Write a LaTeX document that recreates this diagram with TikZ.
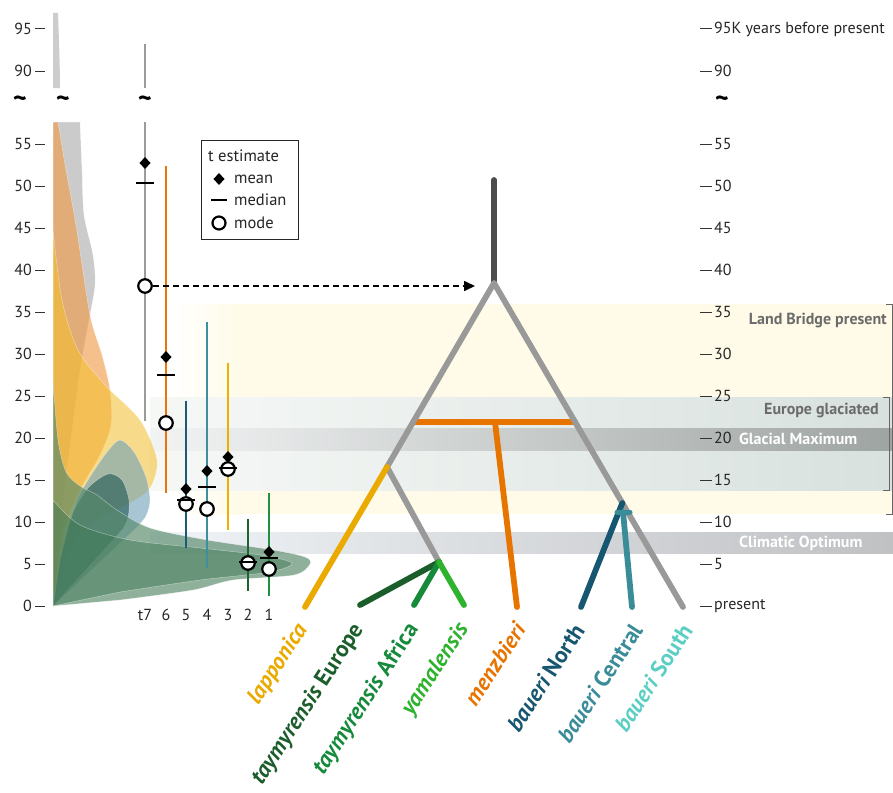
\documentclass[tikz,border=0pt]{standalone}
\usepackage{fontspec}
\setmainfont{PT Sans}
\usetikzlibrary{arrows.meta,calc}
\definecolor{cLap}{HTML}{EAAA00}
\definecolor{cTE}{HTML}{1B5E2B}
\definecolor{cTA}{HTML}{148A3A}
\definecolor{cYam}{HTML}{2FB22E}
\definecolor{cMen}{HTML}{E87400}
\definecolor{cBN}{HTML}{175670}
\definecolor{cBC}{HTML}{3A8C99}
\definecolor{cBS}{HTML}{5CCFC4}
\definecolor{cTree}{HTML}{999999}
\definecolor{cStem}{HTML}{4D4D4D}
\definecolor{e7}{HTML}{9B9B9B}
\definecolor{e6}{HTML}{E8740A}
\definecolor{e5}{HTML}{1D5A75}
\definecolor{e4}{HTML}{3D8FA0}
\definecolor{e3}{HTML}{EBB000}
\definecolor{e2}{HTML}{1E6430}
\definecolor{e1}{HTML}{1E9040}
\definecolor{cLB}{HTML}{FFFBE8}
\definecolor{EGl}{HTML}{F6F8F6}
\definecolor{EGr}{HTML}{D8E1DE}
\definecolor{GMl}{HTML}{F2F4F4}
\definecolor{GMr}{HTML}{9EA4A2}
\definecolor{COl}{HTML}{F0F3F7}
\definecolor{COr}{HTML}{BFC1C3}
\definecolor{bandtxt}{HTML}{6B6B6B}
\definecolor{dGc}{HTML}{B8B8B8}
\definecolor{dOc}{HTML}{EF9A45}
\definecolor{dYc}{HTML}{F4BF2A}
\definecolor{dBc}{HTML}{6F9FB8}
\definecolor{dTc}{HTML}{1D5550}
\definecolor{dGrc}{HTML}{55896A}
\definecolor{dGrd}{HTML}{3A7550}
\tikzset{
  br/.style={line width=5.8pt, line cap=round, line join=round},
  dens/.style={draw=white, draw opacity=0.45, line width=0.5pt},
  modemk/.style={circle, draw=black, line width=2.2pt, fill=white, minimum size=13.5pt, inner sep=0pt},
  axlab/.style={font=\fontsize{16}{16}\selectfont, text=black!85, inner sep=0pt},
  leglab/.style={font=\fontsize{16.5}{16.5}\selectfont, text=black!85, inner sep=0pt},
  taxon/.style={font=\fontsize{23}{23}\selectfont\bfseries, rotate=57, anchor=east, inner sep=0pt},
  bandlab/.style={font=\fontsize{16}{16}\selectfont\bfseries, inner sep=0pt},
  tick/.style={line width=1pt, black!80},
}
\newcommand\meanmark[2]{\fill[black] (#1,#2-6) -- (#1+5.5,#2) -- (#1,#2+6) -- (#1-5.5,#2) -- cycle;}
\newcommand\errbar[8]{%
  \draw[line width=2.6pt, #7] (#1,#2) -- (#1,#3);
  \meanmark{#1}{#4}
  \node[modemk] (#8) at (#1,#6) {};
  \draw[line width=2.2pt] (#1-9,#5) -- (#1+9,#5);
}
\begin{document}
\begin{tikzpicture}[x=1pt,y=-1pt]
\useasboundingbox (0,0) rectangle (893,792);
\fill[white] (0,0) rectangle (893,792);

% ---- bands ----
\shade[left color=white, right color=cLB] (170,304) rectangle (240,514);
\fill[cLB] (240,304) rectangle (893,514);
\shade[left color=EGl, right color=EGr] (150,397) rectangle (893,490);
\shade[left color=GMl, right color=GMr] (150,428) rectangle (893,450);
\shade[left color=COl, right color=COr] (150,532) rectangle (893,553);

% brackets
\draw[line width=1pt, black!60] (886,304) -- (892,304) -- (892,514) -- (886,514);
\draw[line width=1pt, black!60] (883,397) -- (889,397) -- (889,490) -- (883,490);

% band labels
\node[bandlab, text=bandtxt, anchor=east] (lbp) at (887,321) {Land Bridge present};
\node[bandlab, text=bandtxt, anchor=east] (eug) at (879,411) {Europe glaciated};
\node[bandlab, text=white, anchor=west] (glm) at (739,439) {Glacial Maximum};
\node[bandlab, text=white, anchor=west] (clo) at (739,543) {Climatic Optimum};

% ---- densities ----
\fill[dGc, fill opacity=0.7] (53,13) -- (58,13) .. controls (59,40) and (60,70) .. (60,88) -- (53,88) -- cycle;
\path[dens, fill=dGc, fill opacity=0.72] (53,122) -- plot[smooth] coordinates {(80,122) (82,170) (84,215) (93,255) (95,285) (89,320) (80,370) (72,430) (63,500) (57,570)} -- (53,606) -- cycle;
\path[dens, fill=dOc, fill opacity=0.62] (53,122) -- plot[smooth] coordinates {(58,122) (66,170) (76,225) (90,315) (102,355) (110,390) (111,425) (100,455) (80,490) (64,530) (57,575)} -- (53,606) -- cycle;
\path[dens, fill=dYc, fill opacity=0.55] plot[smooth] coordinates {(53,230) (62,300) (78,350) (105,385) (140,420) (157,460) (150,488) (130,503) (100,518) (75,540) (60,575)} -- (53,606) -- cycle;
\path[dens, fill=dBc, fill opacity=0.6] (53,606) -- plot[smooth] coordinates {(62,552) (75,505) (88,480) (107,452) (120,440) (134,452) (146,477) (150,500) (146,516) (136,528)} -- cycle;
\path[dens, fill=dTc, fill opacity=0.6] (53,606) -- plot[smooth] coordinates {(60,560) (72,515) (88,488) (108,474) (122,480) (129,500) (128,518) (123,529)} -- cycle;
\path[dens, fill=dGrc, fill opacity=0.66] plot[smooth] coordinates {(53,380) (58,440) (66,472) (80,486) (97,495) (117,510) (150,528) (207,540) (273,550) (305,557) (310,564) (294,575) (233,580) (193,590) (120,600)} -- (53,606) -- cycle;
\path[dens, fill=dGrd, fill opacity=0.45] plot[smooth] coordinates {(53,500) (80,525) (130,540) (200,548) (260,555) (292,563) (270,572) (200,580) (120,592)} -- (53,606) -- cycle;

% ---- left axis ----
\foreach \v in {0,5,...,55} {
  \draw[tick] (35,{606-8.4*\v}) -- (45,{606-8.4*\v});
  \node[axlab, anchor=east] (L\v) at (32,{606-8.4*\v}) {\v};
}
\draw[tick] (35,71) -- (45,71);
\node[axlab, anchor=east] (L90) at (32,71) {90};
\draw[tick] (35,29) -- (45,29);
\node[axlab, anchor=east] (L95) at (32,29) {95};
\foreach \xx/\nm in {20/ta,63/tb,145/tc,722/td} {
  \node[font=\fontsize{26}{26}\selectfont\bfseries, inner sep=0pt] (\nm) at (\xx,102) {\textasciitilde};
}

% ---- right axis ----
\foreach \v in {5,10,...,55} {
  \draw[tick] (700,{606-8.4*\v}) -- (712,{606-8.4*\v});
  \node[axlab, anchor=west] (R\v) at (714,{606-8.4*\v}) {\v};
}
\draw[tick] (700,606) -- (712,606);
\node[axlab, anchor=west] (R0) at (714,606) {present};
\draw[tick] (700,71) -- (712,71);
\node[axlab, anchor=west] (R90) at (714,71) {90};
\draw[tick] (700,29) -- (712,29);
\node[axlab, anchor=west] (R95) at (714,29) {95K years before present};

% ---- error bars ----
\draw[line width=2.6pt, e7] (145,44) -- (145,88);
\errbar{145}{122}{421}{163}{183}{286}{e7}{m7}
\errbar{166}{166}{493}{357}{375}{423}{e6}{m6}
\errbar{186}{401}{548}{489}{500}{504}{e5}{m5}
\errbar{207}{322}{568}{471}{487}{509}{e4}{m4}
\errbar{228}{363}{530}{457}{468}{469}{e3}{m3}
\errbar{248}{519}{591}{562}{562}{563}{e2}{m2}
\errbar{269}{493}{596}{552}{558}{569}{e1}{m1}
\foreach \xx/\t in {145/t7,166/6,186/5,207/4,228/3,248/2,269/1} {
  \node[axlab] (x\t) at (\xx,615) {\t};
}

% ---- legend ----
\node[draw=black!85, line width=0.8pt, minimum width=97pt, minimum height=99pt, anchor=north west, inner sep=0pt] (leg) at (201,140) {};
\node[leglab, anchor=west] (legt) at (208,156) {t estimate};
\meanmark{219}{179}
\node[leglab, anchor=west] (legmean) at (234,179) {mean};
\draw[line width=2pt] (211,200) -- (227,200);
\node[leglab, anchor=west] (legmed) at (234,200) {median};
\node[modemk, minimum size=13pt] (legmode) at (219,223) {};
\node[leglab, anchor=west] (legmo) at (234,223) {mode};

% ---- tree ----
\coordinate (top) at (494,180);
\coordinate (root) at (494,283);
\coordinate (A) at (387,467);
\coordinate (B) at (439,562);
\coordinate (tLap) at (305,607);
\coordinate (tTE) at (360,605);
\coordinate (tTA) at (414,605);
\coordinate (tYam) at (464,605);
\coordinate (tMen) at (517,607);
\coordinate (tBN) at (581,607);
\coordinate (tBC) at (632,607);
\coordinate (tBS) at (683,607);
\coordinate (mL) at ($(root)!0.755!(A)$);
\coordinate (mR) at ($(root)!0.429!(tBS)$);
\coordinate (mM) at (495,422);
\coordinate (C) at ($(root)!0.679!(tBS)$);
\coordinate (Cc) at (623,512);
\coordinate (CcL) at (617,512);
\coordinate (CcR) at (630,512);
\coordinate (arrE) at (475,286);

\draw[dashed, dash pattern=on 6pt off 4pt, line width=1.6pt, -{Triangle[length=11pt,width=10pt]}] (m7) -- (arrE);

\draw[br, cMen] (mL) -- (mR);
\draw[br, cMen] (mM) -- (tMen);
\draw[br, cStem] (top) -- (root);
\draw[br, cTree] (A) -- (root) -- (tBS);
\draw[br, cTree] (A) -- (B);
\draw[br, cLap] (A) -- (tLap);
\draw[br, cTE] (B) -- (tTE);
\draw[br, cTA] (B) -- (tTA);
\draw[br, cYam] (B) -- (tYam);
\draw[br, cBN] (C) -- (tBN);
\draw[br, cBC] (Cc) -- (tBC);
\draw[br, cBC, line width=5pt] (CcL) -- (CcR);

% ---- taxon labels ----
\node[taxon, text=cLap] (nLap) at (303,626) {\itshape lapponica};
\node[taxon, text=cTE] (nTE) at (359,626) {\itshape taymyrensis\upshape{} Europe};
\node[taxon, text=cTA] (nTA) at (414,626) {\itshape taymyrensis\upshape{} Africa};
\node[taxon, text=cYam] (nYam) at (464,626) {\itshape yamalensis};
\node[taxon, text=cMen] (nMen) at (520,625) {\itshape menzbieri};
\node[taxon, text=cBN] (nBN) at (579,626) {\itshape baueri\upshape{} North};
\node[taxon, text=cBC] (nBC) at (637,626) {\itshape baueri\upshape{} Central};
\node[taxon, text=cBS] (nBS) at (687,626) {\itshape baueri\upshape{} South};
\end{tikzpicture}
\end{document}
